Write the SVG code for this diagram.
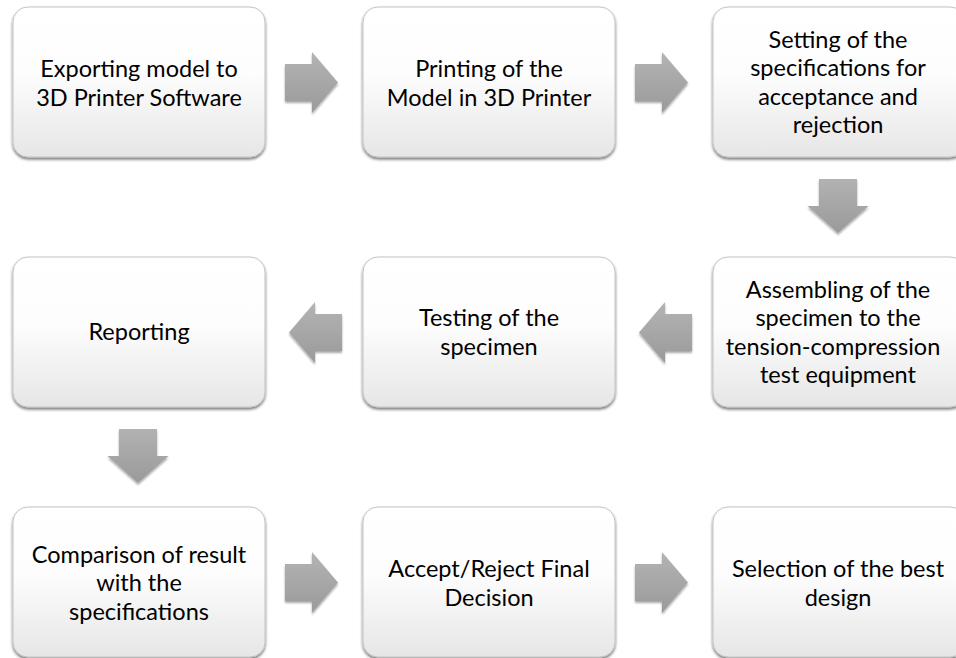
<svg xmlns="http://www.w3.org/2000/svg" width="956" height="658" viewBox="0 0 956 658">
  <defs>
    <linearGradient id="boxFill" x1="0" y1="0" x2="0" y2="1">
      <stop offset="0" stop-color="#ffffff"/>
      <stop offset="0.45" stop-color="#fdfdfd"/>
      <stop offset="1" stop-color="#e6e6e6"/>
    </linearGradient>
    <linearGradient id="arrowFillH" x1="0" y1="0" x2="0" y2="1">
      <stop offset="0" stop-color="#b4b4b4"/>
      <stop offset="1" stop-color="#9a9a9a"/>
    </linearGradient>
    <linearGradient id="arrowFillV" x1="0" y1="0" x2="0" y2="1">
      <stop offset="0" stop-color="#b2b2b2"/>
      <stop offset="1" stop-color="#9a9a9a"/>
    </linearGradient>
    <filter id="boxShadow" x="-10%" y="-10%" width="120%" height="125%">
      <feGaussianBlur in="SourceAlpha" stdDeviation="1.5"/>
      <feOffset dx="0" dy="2" result="b"/>
      <feComponentTransfer><feFuncA type="linear" slope="0.55"/></feComponentTransfer>
      <feMerge><feMergeNode/><feMergeNode in="SourceGraphic"/></feMerge>
    </filter>
    <filter id="arrowShadow" x="-20%" y="-20%" width="140%" height="140%">
      <feGaussianBlur in="SourceAlpha" stdDeviation="1.2"/>
      <feOffset dx="0" dy="1.5" result="b"/>
      <feComponentTransfer><feFuncA type="linear" slope="0.35"/></feComponentTransfer>
      <feMerge><feMergeNode/><feMergeNode in="SourceGraphic"/></feMerge>
    </filter>
    <path id="arrowRight" d="M0,-18.5 H27 V-30.5 L53,0 L27,30.5 V18.5 H0 Z"/>
    <path id="arrowDown" d="M-19,0 H19 V27 H30.5 L0,54 L-30.5,27 H-19 Z"/>
  </defs>
  <style>
    .box { fill: url(#boxFill); stroke: #c4c4c4; stroke-width: 1; filter: url(#boxShadow); }
    .label { font-family: Lato, "Open Sans", "Liberation Sans", sans-serif; font-size: 23.5px; fill: #000; text-anchor: middle; }
    .arrow-h { fill: url(#arrowFillH); filter: url(#arrowShadow); }
    .arrow-v { fill: url(#arrowFillV); filter: url(#arrowShadow); }
  </style>
  <rect width="956" height="658" fill="#ffffff"/>

  <!-- process steps -->
  <g id="node-export">
    <rect class="box" x="13" y="7" width="252" height="150" rx="15"/>
    <text class="label" x="139" y="77">Exporting model to</text>
    <text class="label" x="139" y="105.5">3D Printer Software</text>
  </g>
  <g id="node-print">
    <rect class="box" x="363" y="7" width="252" height="150" rx="15"/>
    <text class="label" x="489" y="77">Printing of the</text>
    <text class="label" x="489" y="105.5">Model in 3D Printer</text>
  </g>
  <g id="node-specs">
    <rect class="box" x="713" y="7" width="252" height="150" rx="15"/>
    <text class="label" x="838" y="47.5">Setting of the</text>
    <text class="label" x="838" y="76">specifications for</text>
    <text class="label" x="838" y="104.5">acceptance and</text>
    <text class="label" x="838" y="133">rejection</text>
  </g>
  <g id="node-assemble">
    <rect class="box" x="713" y="257" width="252" height="150" rx="15"/>
    <text class="label" x="838" y="297.5">Assembling of the</text>
    <text class="label" x="838" y="326">specimen to the</text>
    <text class="label" x="833" y="354.5">tension-compression</text>
    <text class="label" x="838" y="383">test equipment</text>
  </g>
  <g id="node-test">
    <rect class="box" x="363" y="257" width="252" height="150" rx="15"/>
    <text class="label" x="489" y="326">Testing of the</text>
    <text class="label" x="489" y="354.5">specimen</text>
  </g>
  <g id="node-report">
    <rect class="box" x="13" y="257" width="252" height="150" rx="15"/>
    <text class="label" x="139" y="340">Reporting</text>
  </g>
  <g id="node-compare">
    <rect class="box" x="13" y="507" width="252" height="150" rx="15"/>
    <text class="label" x="139" y="562.5">Comparison of result</text>
    <text class="label" x="139" y="591">with the</text>
    <text class="label" x="139" y="619.5">specifications</text>
  </g>
  <g id="node-decide">
    <rect class="box" x="363" y="507" width="252" height="150" rx="15"/>
    <text class="label" x="489" y="577">Accept/Reject Final</text>
    <text class="label" x="489" y="605.5">Decision</text>
  </g>
  <g id="node-select">
    <rect class="box" x="713" y="507" width="252" height="150" rx="15"/>
    <text class="label" x="838" y="577">Selection of the best</text>
    <text class="label" x="838" y="605.5">design</text>
  </g>

  <!-- flow arrows -->
  <g id="connectors">
    <use href="#arrowRight" class="arrow-h" transform="translate(285,82.5)"/>
    <use href="#arrowRight" class="arrow-h" transform="translate(635,82.5)"/>
    <use href="#arrowDown" class="arrow-v" transform="translate(838,179)"/>
    <use href="#arrowRight" class="arrow-h" transform="translate(692,332.5) scale(-1,1)"/>
    <use href="#arrowRight" class="arrow-h" transform="translate(342,332.5) scale(-1,1)"/>
    <use href="#arrowDown" class="arrow-v" transform="translate(138,429)"/>
    <use href="#arrowRight" class="arrow-h" transform="translate(285,582.5)"/>
    <use href="#arrowRight" class="arrow-h" transform="translate(635,582.5)"/>
  </g>
</svg>
